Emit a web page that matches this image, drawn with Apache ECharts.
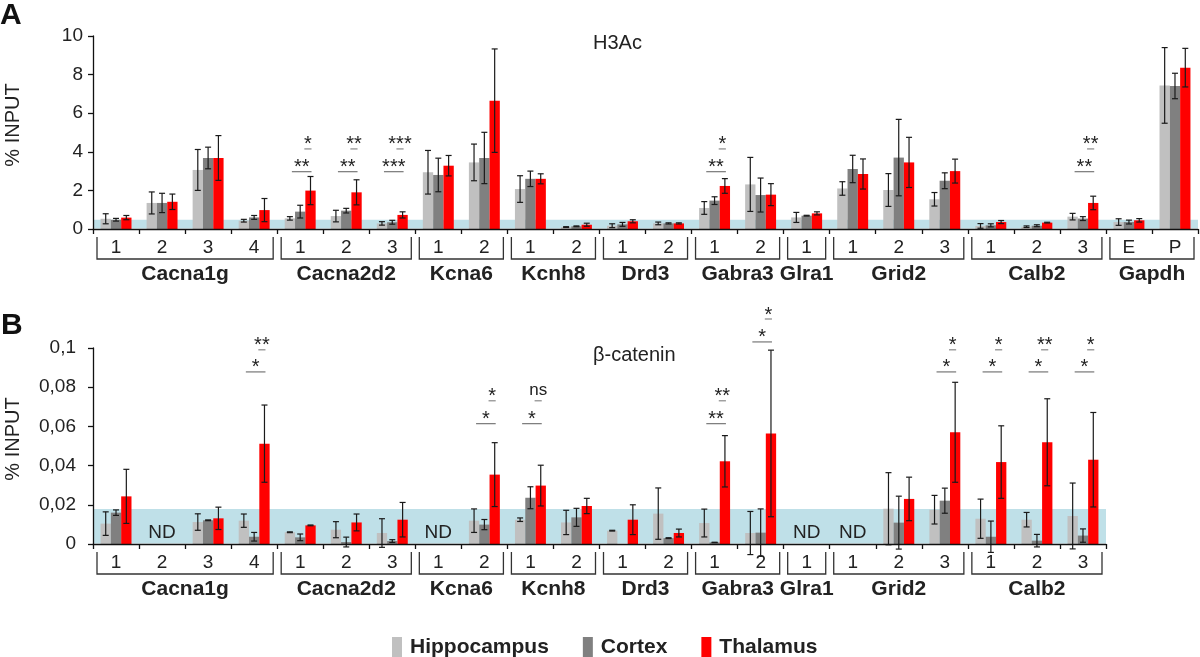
<!DOCTYPE html>
<html><head><meta charset="utf-8">
<script src="https://cdn.jsdelivr.net/npm/echarts@6/dist/echarts.min.js"></script>
<style>html,body{margin:0;padding:0;background:#fff}#c{width:1200px;height:657px}</style>
</head><body><div id="c"></div><script>
// ---------- DATA ----------
const seriesNames = ['Hippocampus', 'Cortex', 'Thalamus'];
const genesA = ['Cacna1g','Cacna2d2','Kcna6','Kcnh8','Drd3','Gabra3','Glra1','Grid2','Calb2','Gapdh'];
const sitesA = [['1','2','3','4'],['1','2','3'],['1','2'],['1','2'],['1','2'],['1','2'],['1'],['1','2','3'],['1','2','3'],['E','P']];
const genesB = ['Cacna1g','Cacna2d2','Kcna6','Kcnh8','Drd3','Gabra3','Glra1','Grid2','Calb2'];
const sitesB = [['1','2','3','4'],['1','2','3'],['1','2'],['1','2'],['1','2'],['1','2'],['1'],['1','2','3'],['1','2','3']];

const yTicksA = [0, 2, 4, 6, 8, 10];
const yTicksB = [0, 0.02, 0.04, 0.06, 0.08, 0.1];

// Panel A (H3Ac) - % input, mean and error
const hippoA     = [0.53,1.35,3.06,0.43, 0.55,0.67,0.29, 2.94,3.45, 2.07,0.10, 0.17,0.29, 1.09,2.31, 0.60, 2.10,2.02,1.54, 0.16,0.12,0.64, 0.36,7.44];
const hippoErrA  = [0.26,0.57,1.06,0.07, 0.09,0.30,0.09, 1.13,0.95, 0.69,0.02, 0.10,0.07, 0.33,1.40, 0.26, 0.35,0.85,0.35, 0.12,0.04,0.17, 0.17,1.96];
const cortexA    = [0.48,1.35,3.68,0.60, 0.90,0.95,0.35, 2.80,3.68, 2.60,0.14, 0.24,0.29, 1.47,1.76, 0.69, 3.11,3.70,2.50, 0.19,0.17,0.54, 0.36,7.41];
const cortexErrA = [0.07,0.50,0.56,0.10, 0.33,0.12,0.10, 0.87,1.33, 0.40,0.02, 0.10,0.03, 0.20,0.88, 0.02, 0.71,1.98,0.41, 0.08,0.05,0.10, 0.10,0.66];
const thalA      = [0.59,1.41,3.68,0.98, 1.99,1.90,0.73, 3.28,6.65, 2.60,0.22, 0.40,0.29, 2.23,1.78, 0.81, 2.85,3.45,3.00, 0.36,0.33,1.35, 0.45,8.36];
const thalErrA   = [0.11,0.40,1.16,0.60, 0.73,0.65,0.16, 0.53,2.68, 0.26,0.08, 0.08,0.03, 0.38,0.57, 0.08, 0.78,1.30,0.62, 0.08,0.02,0.35, 0.09,1.00];
const bandA = 0.48;

// Panel B (beta-catenin)
const hippoB     = [0.0104,null,0.0112,0.0119, 0.0060,0.0073,0.0056, null,0.0119, 0.0124,0.0110, 0.0068,0.0155, 0.0107,0.0056, null, null,0.0180,0.0175, 0.0129,0.0124,0.0143];
const hippoErrB  = [0.0060,null,0.0042,0.0034, 0.0002,0.0041,0.0073, null,0.0060, 0.0009,0.0062, 0.0002,0.0131, 0.0071,0.0110, null, null,0.0184,0.0073, 0.0100,0.0037,0.0168];
const cortexB    = [0.0160,null,0.0121,0.0037, 0.0034,0.0010,0.0015, null,0.0099, 0.0236,0.0136, null,0.0030, 0.0008,0.0058, null, null,0.0109,0.0221, 0.0037,0.0017,0.0043];
const cortexErrB = [0.0014,null,0.0002,0.0022, 0.0017,0.0025,0.0007, null,0.0026, 0.0056,0.0046, null,0.0002, 0.0001,0.0121, null, null,0.0135,0.0064, 0.0080,0.0032,0.0034];
const thalB      = [0.0243,null,0.0131,0.0512, 0.0095,0.0110,0.0124, null,0.0354, 0.0298,0.0194, 0.0124,0.0056, 0.0422,0.0564, null, null,0.0230,0.0570, 0.0418,0.0519,0.0430];
const thalErrB   = [0.0138,null,0.0057,0.0197, 0.0002,0.0043,0.0088, null,0.0163, 0.0104,0.0039, 0.0076,0.0020, 0.0131,0.0425, null, null,0.0111,0.0255, 0.0185,0.0222,0.0241];
const bandB = 0.0179;
const ndB = ['Cacna1g_2', 'Kcna6_1', 'Glra1_1', 'Grid2_1'];

// Significance: [category id, lower text, upper text, lower line level, upper line level]
const sigA = [
  ['Cacna2d2_1', '**', '*', 2.97, 4.15],
  ['Cacna2d2_2', '**', '**', 2.97, 4.15],
  ['Cacna2d2_3', '***', '***', 2.97, 4.15],
  ['Gabra3_1', '**', '*', 2.97, 4.15],
  ['Calb2_3', '**', '**', 2.97, 4.15]
];
const sigB = [
  ['Cacna1g_4', '*', '**', 0.0878, 0.0991],
  ['Kcna6_2', '*', '*', 0.0614, 0.0731],
  ['Kcnh8_1', '*', 'ns', 0.0614, 0.0731],
  ['Gabra3_1', '**', '**', 0.0614, 0.0731],
  ['Gabra3_2', '*', '*', 0.1031, 0.1148],
  ['Grid2_3', '*', '*', 0.0878, 0.0991],
  ['Calb2_1', '*', '*', 0.0878, 0.0991],
  ['Calb2_2', '*', '**', 0.0878, 0.0991],
  ['Calb2_3', '*', '*', 0.0878, 0.0991]
];

// ---------- RENDER ----------
const FONT = "'Liberation Sans', Arial, Helvetica, sans-serif";
const COLORS = ['#c0c0c0', '#808080', '#ff0000'];
const BW = 0.224;
const TXT = '#222';

function buildCats(genes, sites) {
  const ids = [], labels = [], ranges = [];
  let k = 0;
  genes.forEach((g, gi) => {
    const s = sites[gi];
    ranges.push([k, 0, k + s.length - 1, gi]);
    s.forEach(t => { ids.push(g + '_' + t); labels.push(t); k++; });
  });
  return { ids, labels, ranges };
}
const catA = buildCats(genesA, sitesA);
const catB = buildCats(genesB, sitesB);

function errRender(k) {
  return function (params, api) {
    const i = api.value(0), v = api.value(1), e = api.value(2);
    const band = api.size([1, 0])[0];
    const x = api.coord([i, v])[0] + k * band * BW;
    const yt = api.coord([i, v + e])[1], yb = api.coord([i, v - e])[1];
    const st = { stroke: '#1a1a1a', lineWidth: 1.2 };
    return { type: 'group', children: [
      { type: 'line', shape: { x1: x, y1: yt, x2: x, y2: yb }, style: st },
      { type: 'line', shape: { x1: x - 3, y1: yt, x2: x + 3, y2: yt }, style: st },
      { type: 'line', shape: { x1: x - 3, y1: yb, x2: x + 3, y2: yb }, style: st }
    ] };
  };
}
function errData(vals, errs) {
  const out = [];
  vals.forEach((v, i) => { if (v != null) out.push([i, v, errs[i]]); });
  return out;
}
function bracketRender(genes) {
  return function (params, api) {
    const s = api.value(0), e = api.value(2), gi = api.value(3);
    const band = api.size([1, 0])[0];
    const p0 = api.coord([s, 0]), p1 = api.coord([e, 0]);
    const x0 = p0[0] - band / 2 + 4, x1 = p1[0] + band / 2 - 4, y = p0[1];
    return { type: 'group', children: [
      { type: 'polyline', shape: { points: [[x0, y + 8], [x0, y + 30], [x1, y + 30], [x1, y + 8]] },
        style: { stroke: '#333', lineWidth: 1.3, fill: null } },
      { type: 'text', style: { text: genes[gi], x: (x0 + x1) / 2, y: y + 45, align: 'center', verticalAlign: 'middle',
        font: 'bold 21px ' + FONT, fill: TXT } }
    ] };
  };
}
function bandRender(params, api) {
  const cs = params.coordSys;
  const y = api.coord([0, api.value(1)])[1];
  const y0 = api.coord([0, 0])[1];
  return { type: 'rect', shape: { x: cs.x + 1, y: y, width: cs.width - 1, height: y0 - y - 0.5 },
    style: { fill: '#bfe0e8' } };
}
function sigRender(sig) {
  return function (params, api) {
    const idx = params.dataIndex;
    const i = api.value(0);
    const band = api.size([1, 0])[0];
    const bw = band * BW;
    const cLo = api.coord([i, api.value(1)]);
    const yUp = api.coord([i, api.value(2)])[1];
    const cx = cLo[0], yLo = cLo[1];
    const xH = cx - bw, xC = cx, xT = cx + bw;
    const lowTxt = sig[idx][1], upTxt = sig[idx][2];
    const ux0 = (xC + xT) / 2 - 1, ux1 = xT + 1;
    const textY = (t, ly) => t === 'ns' ? ly - 2 : ly + 6;
    const fnt = t => (t === 'ns' ? '17px ' : '20px ') + FONT;
    return { type: 'group', children: [
      { type: 'line', shape: { x1: xH + 2, y1: yLo, x2: xT + 1, y2: yLo }, style: { stroke: '#777', lineWidth: 1.2 } },
      { type: 'line', shape: { x1: ux0, y1: yUp, x2: ux1, y2: yUp }, style: { stroke: '#a0a0a0', lineWidth: 1.5 } },
      { type: 'text', style: { text: lowTxt, x: (xH + xT) / 2 + 1.5, y: textY(lowTxt, yLo), align: 'center', verticalAlign: 'bottom',
        font: fnt(lowTxt), fill: TXT } },
      { type: 'text', style: { text: upTxt, x: (ux0 + ux1) / 2, y: textY(upTxt, yUp), align: 'center', verticalAlign: 'bottom',
        font: fnt(upTxt), fill: TXT } }
    ] };
  };
}
function ndRender(params, api) {
  const p = api.coord([api.value(0), 0]);
  return { type: 'text', style: { text: 'ND', x: p[0], y: p[1] - 11, align: 'center', verticalAlign: 'middle',
    font: '19px ' + FONT, fill: TXT } };
}

function panel(ax, cat, vals, errs, band, sig, nd) {
  const out = [];
  out.push({ type: 'custom', name: 'band' + ax, xAxisIndex: ax, yAxisIndex: ax, z: 1, clip: false,
    renderItem: bandRender, data: [[0, band]], silent: true });
  vals.forEach((v, k) => {
    out.push({ type: 'bar', name: seriesNames[k], xAxisIndex: ax, yAxisIndex: ax, z: 2,
      barWidth: (BW * 100) + '%', barGap: '0%', itemStyle: { color: COLORS[k] }, data: v, silent: true });
  });
  vals.forEach((v, k) => {
    out.push({ type: 'custom', name: 'err' + ax + k, xAxisIndex: ax, yAxisIndex: ax, z: 4, clip: false,
      renderItem: errRender(k - 1), data: errData(v, errs[k]), silent: true });
  });
  out.push({ type: 'custom', name: 'br' + ax, xAxisIndex: ax, yAxisIndex: ax, z: 4, clip: false,
    renderItem: bracketRender(ax === 0 ? genesA : genesB), data: cat.ranges, silent: true });
  out.push({ type: 'custom', name: 'sig' + ax, xAxisIndex: ax, yAxisIndex: ax, z: 4, clip: false,
    renderItem: sigRender(sig), data: sig.map(s => [cat.ids.indexOf(s[0]), s[3], s[4]]), silent: true });
  if (nd) {
    out.push({ type: 'custom', name: 'nd' + ax, xAxisIndex: ax, yAxisIndex: ax, z: 4, clip: false,
      renderItem: ndRender, data: nd.map(id => [cat.ids.indexOf(id), 0]), silent: true });
  }
  return out;
}

function xAxisCfg(gi, cat) {
  return { type: 'category', gridIndex: gi, data: cat.ids, z: 5,
    axisLine: { lineStyle: { color: '#111', width: 1.3 } },
    axisTick: { show: true, interval: 0, length: 5, lineStyle: { color: '#111', width: 1.3 } },
    axisLabel: { interval: 0, margin: 9, fontSize: 19, color: TXT, fontFamily: FONT,
      formatter: (v, i) => cat.labels[i] },
    splitLine: { show: false } };
}
function fmtB(v) { return v === 0 ? '0' : String(+v.toFixed(2)).replace('.', ','); }
function yAxisCfg(gi, ticks, fmt, margin) {
  return { type: 'value', gridIndex: gi, min: ticks[0], max: ticks[ticks.length - 1], interval: ticks[1] - ticks[0], z: 5,
    axisLine: { show: true, lineStyle: { color: '#111', width: 1.3 } },
    axisTick: { show: true, length: 5, lineStyle: { color: '#111', width: 1.3 } },
    axisLabel: { fontSize: 19, color: TXT, fontFamily: FONT, margin: margin, formatter: fmt },
    splitLine: { show: false } };
}

const option = {
  backgroundColor: '#fff',
  animation: false,
  grid: [
    { left: 93, top: 36, width: 1105, height: 193 },
    { left: 93, top: 348, width: 1013, height: 196 }
  ],
  xAxis: [xAxisCfg(0, catA), xAxisCfg(1, catB)],
  yAxis: [yAxisCfg(0, yTicksA, v => String(v), 10), yAxisCfg(1, yTicksB, fmtB, 17)],
  legend: { data: seriesNames, left: 387, top: 632, itemWidth: 10, itemHeight: 21, itemGap: 34, icon: 'rect',
    selectedMode: false,
    textStyle: { fontFamily: FONT, fontSize: 21, fontWeight: 'bold', color: TXT, padding: [0, 0, 0, 3] } },
  graphic: [
    { type: 'text', x: 0, y: 1, style: { text: 'A', font: 'bold 30px ' + FONT, fill: '#111' } },
    { type: 'text', x: 1, y: 311, style: { text: 'B', font: 'bold 30px ' + FONT, fill: '#111' } },
    { type: 'text', x: 593, y: 43, style: { text: 'H3Ac', font: '20px ' + FONT, fill: TXT, verticalAlign: 'middle' } },
    { type: 'text', x: 593, y: 355, style: { text: 'β-catenin', font: '20px ' + FONT, fill: TXT, verticalAlign: 'middle' } },
    { type: 'text', x: 13, y: 125, rotation: Math.PI / 2, style: { text: '% INPUT', font: '20px ' + FONT, fill: TXT, align: 'center', verticalAlign: 'middle' } },
    { type: 'text', x: 13, y: 439, rotation: Math.PI / 2, style: { text: '% INPUT', font: '20px ' + FONT, fill: TXT, align: 'center', verticalAlign: 'middle' } }
  ],
  series: [].concat(
    panel(0, catA, [hippoA, cortexA, thalA], [hippoErrA, cortexErrA, thalErrA], bandA, sigA, null),
    panel(1, catB, [hippoB, cortexB, thalB], [hippoErrB, cortexErrB, thalErrB], bandB, sigB, ndB)
  )
};
const chart = echarts.init(document.getElementById('c'), null, { renderer: 'canvas' });
chart.setOption(option);
</script></body></html>
